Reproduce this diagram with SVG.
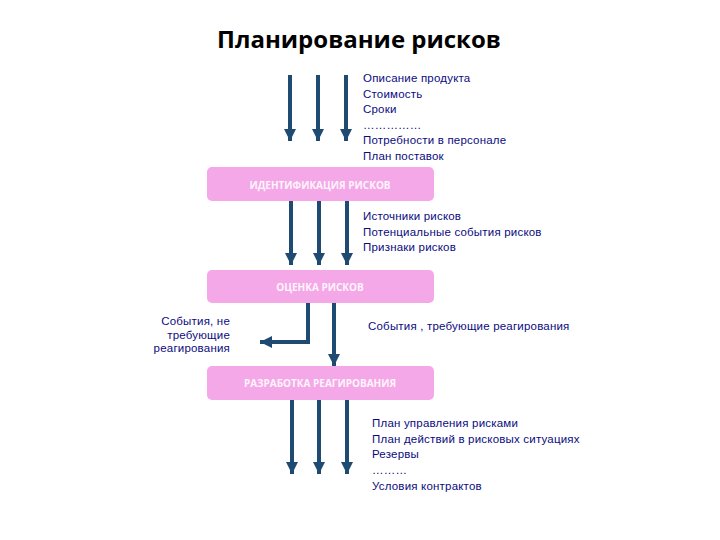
<svg xmlns="http://www.w3.org/2000/svg" width="720" height="540" viewBox="0 0 720 540">
<style>
.title{font-family:"Open Sans","Liberation Sans",sans-serif;font-weight:bold;font-size:24px;fill:#000}
.box{fill:#F4A8E8}
.bt{font-family:"Open Sans","Liberation Sans",sans-serif;font-weight:bold;font-size:10px;fill:#FFF4FC;text-anchor:middle}
.t{font-family:"Liberation Sans",Arial,sans-serif;font-size:11.5px;letter-spacing:0.2px;fill:#0B0B80}
.ln{stroke:#1F4A72;stroke-width:4;fill:none}
</style>
<defs>
<marker id="ah" viewBox="0 0 10 10" refX="10" refY="5" markerWidth="3" markerHeight="3" orient="auto" markerUnits="strokeWidth">
<path d="M0,0 L10,5 L0,10 z" fill="#1F4A72"/>
</marker>
</defs>
<rect width="720" height="540" fill="#fff"/>
<text class="title" x="359" y="48" text-anchor="middle">Планирование рисков</text>

<g id="n1">
<rect class="box" x="207" y="167" width="227" height="34" rx="5"/>
<text class="bt" x="320" y="189">ИДЕНТИФИКАЦИЯ РИСКОВ</text>
</g>
<g id="n2">
<rect class="box" x="207" y="270" width="227" height="33" rx="5"/>
<text class="bt" x="320" y="291">ОЦЕНКА РИСКОВ</text>
</g>
<g id="n3">
<rect class="box" x="207" y="366" width="227" height="34" rx="5"/>
<text class="bt" x="320" y="387">РАЗРАБОТКА РЕАГИРОВАНИЯ</text>
</g>

<g id="connectors">
<line class="ln" x1="290" y1="75" x2="290" y2="141" marker-end="url(#ah)"/>
<line class="ln" x1="318" y1="75" x2="318" y2="141" marker-end="url(#ah)"/>
<line class="ln" x1="346" y1="75" x2="346" y2="141" marker-end="url(#ah)"/>
<line class="ln" x1="291" y1="201" x2="291" y2="265" marker-end="url(#ah)"/>
<line class="ln" x1="319" y1="201" x2="319" y2="265" marker-end="url(#ah)"/>
<line class="ln" x1="347" y1="201" x2="347" y2="265" marker-end="url(#ah)"/>
<polyline class="ln" points="308,303 308,342 260,342" marker-end="url(#ah)"/>
<line class="ln" x1="334" y1="303" x2="334" y2="366" marker-end="url(#ah)"/>
<line class="ln" x1="292" y1="400" x2="292" y2="474" marker-end="url(#ah)"/>
<line class="ln" x1="319" y1="400" x2="319" y2="474" marker-end="url(#ah)"/>
<line class="ln" x1="347" y1="400" x2="347" y2="474" marker-end="url(#ah)"/>
</g>

<g id="labels">
<text class="t" x="363" y="82">Описание продукта</text>
<text class="t" x="363" y="98">Стоимость</text>
<text class="t" x="363" y="113">Сроки</text>
<text class="t" x="363" y="129">……………</text>
<text class="t" x="363" y="144">Потребности в персонале</text>
<text class="t" x="363" y="160">План поставок</text>

<text class="t" x="363" y="220">Источники рисков</text>
<text class="t" x="363" y="236">Потенциальные события рисков</text>
<text class="t" x="363" y="251">Признаки рисков</text>

<text class="t" x="230" y="325" text-anchor="end">События, не</text>
<text class="t" x="230" y="339" text-anchor="end">требующие</text>
<text class="t" x="230" y="352" text-anchor="end">реагирования</text>
<text class="t" x="368" y="330">События , требующие реагирования</text>

<text class="t" x="372" y="427">План управления рисками</text>
<text class="t" x="372" y="443">План действий в рисковых ситуациях</text>
<text class="t" x="372" y="458">Резервы</text>
<text class="t" x="372" y="474">………</text>
<text class="t" x="372" y="490">Условия контрактов</text>
</g>
</svg>
